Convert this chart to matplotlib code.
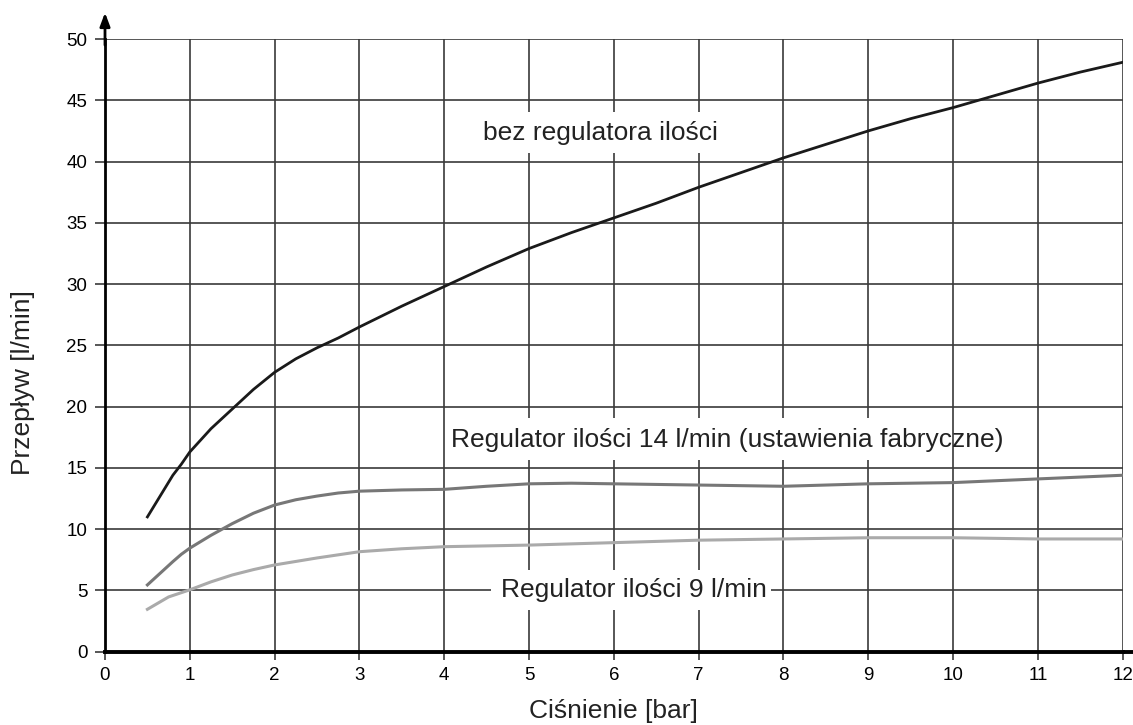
import matplotlib
matplotlib.use("Agg")
import matplotlib.pyplot as plt
from matplotlib.patches import Rectangle

plt.rcParams['font.family'] = ['Liberation Sans', 'DejaVu Sans']

# Data
x_bez = [0.5, 0.65, 0.8, 0.9, 1.0, 1.25, 1.5, 1.75, 2.0, 2.25, 2.5, 2.75, 3.0, 3.5, 4.0, 4.5,
         5.0, 5.5, 6.0, 6.5, 7.0, 7.5, 8.0, 8.5, 9.0, 9.5, 10.0, 10.5, 11.0, 11.5, 12.0]
y_bez = [11.0, 12.7, 14.4, 15.3, 16.3, 18.2, 19.8, 21.4, 22.8, 23.9, 24.8, 25.6, 26.5, 28.2, 29.8, 31.4,
         32.9, 34.2, 35.4, 36.6, 37.9, 39.1, 40.3, 41.4, 42.5, 43.5, 44.4, 45.4, 46.4, 47.3, 48.1]

x_14 = [0.5, 0.65, 0.8, 0.9, 1.0, 1.25, 1.5, 1.75, 2.0, 2.25, 2.5, 2.75, 3.0, 3.5, 4.0, 4.5,
        5.0, 5.5, 6.0, 6.5, 7.0, 7.5, 8.0, 8.5, 9.0, 9.5, 10.0, 10.5, 11.0, 11.5, 12.0]
y_14 = [5.45, 6.4, 7.35, 7.95, 8.45, 9.5, 10.45, 11.3, 11.97, 12.4, 12.7, 12.95, 13.1, 13.2, 13.25, 13.5,
        13.7, 13.75, 13.7, 13.65, 13.6, 13.55, 13.5, 13.6, 13.7, 13.75, 13.8, 13.95, 14.1, 14.25, 14.4]

x_9 = [0.5, 0.75, 1.0, 1.25, 1.5, 1.75, 2.0, 2.5, 3.0, 3.5, 4.0, 5.0, 6.0, 7.0, 8.0, 9.0, 10.0, 11.0, 12.0]
y_9 = [3.46, 4.47, 5.05, 5.7, 6.26, 6.7, 7.08, 7.65, 8.16, 8.4, 8.57, 8.7, 8.9, 9.1, 9.2, 9.3, 9.3, 9.2, 9.2]

x_ticks = list(range(0, 13))
y_ticks = list(range(0, 51, 5))

label_bez = "bez regulatora ilości"
label_14 = "Regulator ilości 14 l/min (ustawienia fabryczne)"
label_9 = "Regulator ilości 9 l/min"

fig = plt.figure(figsize=(11.33, 7.25), dpi=100)
ax = fig.add_axes([105/1133, 1 - 651.7/725, (1122.7 - 105)/1133, (651.7 - 39)/725])

ax.set_xlim(0, 12)
ax.set_ylim(0, 50)
ax.set_xticks(x_ticks)
ax.set_yticks(y_ticks)

grid_col = '#3a3a3a'
ax.grid(True, color=grid_col, linewidth=1.2, zorder=1)
ax.tick_params(axis='both', direction='out', width=1.2, color=grid_col, labelsize=13.5)
ax.tick_params(axis='y', length=7.2, pad=5.5)
ax.tick_params(axis='x', length=6, pad=5)

for s in ['top', 'right']:
    ax.spines[s].set_visible(False)
ax.spines['left'].set_linewidth(2.0)
ax.spines['bottom'].set_linewidth(2.8)
ax.spines['left'].set_zorder(5)
ax.spines['bottom'].set_zorder(5)

# extend x axis to the right, y axis with arrow upwards
ax.plot([1, 1.01], [0, 0], transform=ax.transAxes, color='black', lw=2.8, clip_on=False,
        solid_capstyle='butt', zorder=5)
ax.annotate('', xy=(0, 1.043), xycoords='axes fraction', xytext=(0, 0.99),
            textcoords='axes fraction',
            arrowprops=dict(arrowstyle='-|>,head_length=0.8,head_width=0.3', color='black', lw=2.0,
                            shrinkA=0, shrinkB=0), zorder=6)

# white label backgrounds that interrupt the grid
ax.add_patch(Rectangle((4.35, 40.7), 3.05, 3.35, facecolor='white', edgecolor='none', zorder=2))
ax.add_patch(Rectangle((4.1, 15.65), 5.8, 3.45, facecolor='white', edgecolor='none', zorder=2))
ax.add_patch(Rectangle((4.55, 3.4), 3.3, 3.27, facecolor='white', edgecolor='none', zorder=2))

ax.plot(x_bez, y_bez, color='#1a1a1a', lw=2.0, zorder=4)
ax.plot(x_14, y_14, color='#777777', lw=2.2, zorder=4)
ax.plot(x_9, y_9, color='#aaaaaa', lw=2.2, zorder=4)

ax.text(5.84, 42.3, label_bez, fontsize=19, ha='center', va='center', zorder=3, color='#222222')
ax.text(7.34, 17.3, label_14, fontsize=19, ha='center', va='center', zorder=3, color='#222222')
ax.text(6.24, 5.0, label_9, fontsize=19, ha='center', va='center', zorder=3, color='#222222')

ax.set_xlabel("Ciśnienie [bar]", fontsize=19, color='#222222')
ax.set_ylabel("Przepływ [l/min]", fontsize=19, color='#222222')
ax.xaxis.set_label_coords(0.5, -0.078)
ax.yaxis.set_label_coords(-0.069, 0.44)

fig.savefig("out.png", dpi=100)
